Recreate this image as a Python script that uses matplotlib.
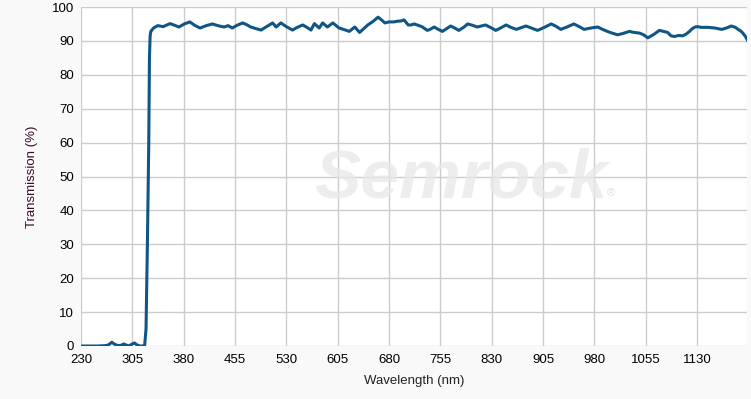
import matplotlib
matplotlib.use("Agg")
import matplotlib.pyplot as plt
import numpy as np

plt.rcParams['font.family'] = ['Liberation Sans', 'DejaVu Sans']

# Data (wavelength nm, transmission %)
wavelength = [230, 240, 255, 265, 270, 275, 280, 285, 290, 292, 296, 300, 304, 308, 312, 316, 320,
              323, 325, 327, 328, 329, 330, 331, 332, 336, 342, 350, 360, 367, 373, 381, 389, 396, 404,
              413, 422, 430, 439, 445, 451, 458, 466, 472, 478, 486, 493, 502, 510, 515, 522,
              530, 539, 546, 554, 560, 566, 571, 578, 583, 590, 598, 607, 615, 622, 630, 637,
              643, 649, 657, 664, 669, 674, 680, 687, 692, 698, 702, 708, 712, 717, 721, 728,
              736, 740, 746, 752, 758, 764, 770, 776, 782, 789, 795, 802, 809, 815, 821, 828,
              836, 843, 851, 858, 866, 873, 880, 888, 897, 907, 917, 924, 931, 940, 950, 957,
              965, 975, 985, 992, 999, 1006, 1014, 1022, 1031, 1038, 1046, 1052, 1058, 1066,
              1075, 1081, 1087, 1092, 1097, 1103, 1109, 1114, 1119, 1123, 1127, 1131, 1136,
              1146, 1156, 1166, 1173, 1180, 1186, 1190, 1194, 1197, 1201, 1204]
transmission = [0.0, 0.0, 0.0, 0.1, 0.3, 1.1, 0.4, 0.1, 0.3, 0.6, 0.3, 0.0, 0.5, 0.9, 0.3, 0.0, 0.0,
                0.2, 5.0, 30.0, 45.0, 60.0, 85.0, 91.5, 92.8, 93.8, 94.5, 94.2, 95.1, 94.6, 94.1, 95.0, 95.6, 94.6, 93.8,
                94.5, 95.0, 94.5, 94.1, 94.5, 93.8, 94.6, 95.3, 94.8, 94.1, 93.6, 93.2, 94.3, 95.3, 94.1, 95.3,
                94.2, 93.2, 94.0, 94.7, 94.0, 93.2, 95.1, 93.8, 95.3, 94.1, 95.3, 93.8, 93.3, 92.8, 94.1, 92.5,
                93.6, 94.7, 95.8, 97.0, 96.2, 95.3, 95.6, 95.6, 95.8, 95.9, 96.2, 94.7, 94.7, 95.0, 94.7, 94.2,
                93.1, 93.4, 94.1, 93.4, 92.8, 93.6, 94.4, 93.8, 93.1, 94.0, 95.0, 94.6, 94.1, 94.4, 94.7, 94.0,
                93.1, 93.8, 94.7, 94.0, 93.4, 93.9, 94.4, 93.8, 93.1, 94.0, 95.0, 94.3, 93.4, 94.1, 95.0, 94.3,
                93.4, 93.8, 94.1, 93.4, 92.8, 92.3, 91.8, 92.2, 92.8, 92.5, 92.3, 91.8, 90.9, 91.8,
                93.1, 92.8, 92.5, 91.5, 91.3, 91.6, 91.5, 92.0, 92.8, 93.6, 94.1, 94.2, 94.0,
                94.0, 93.8, 93.4, 93.8, 94.4, 94.0, 93.4, 92.9, 92.3, 91.2, 90.1]

x_ticks = [230, 305, 380, 455, 530, 605, 680, 755, 830, 905, 980, 1055, 1130]
y_ticks = [0, 10, 20, 30, 40, 50, 60, 70, 80, 90, 100]

fig = plt.figure(figsize=(7.51, 3.99), dpi=100)
fig.patch.set_facecolor('#f9f9f9')
ax = fig.add_axes([81/751, 1 - 346/399, (747 - 81)/751, (346 - 7)/399])
ax.set_facecolor('white')

ax.plot(wavelength, transmission, color='#0f5585', linewidth=2.2, solid_joinstyle='round', zorder=3)

ax.set_xlim(230, 1203)
ax.set_ylim(0, 100)
ax.set_xticks(x_ticks)
ax.set_yticks(y_ticks)
ax.grid(True, color='#cccccc', linewidth=1)
ax.set_axisbelow(True)
for s in ax.spines.values():
    s.set_visible(False)
ax.tick_params(length=0, labelsize=9.5, colors='black', pad=5)
ax.tick_params(axis='x', pad=6)

ax.set_xlabel('Wavelength (nm)', fontsize=9.5, color='#222222', labelpad=6)
ax.set_ylabel('Transmission (%)', fontsize=9.5, color='#3a0a2a', labelpad=10)

# Watermark
ax.text(0.57, 0.49, 'Semrock', transform=ax.transAxes, fontsize=50, fontweight='bold',
        fontstyle='italic', color='#e8e8e8', ha='center', va='center', zorder=1, alpha=0.75)
ax.text(0.79, 0.45, '®', transform=ax.transAxes, fontsize=8,
        color='#e0e0e0', ha='left', va='center', zorder=1)

fig.savefig('out.png', dpi=100, facecolor=fig.get_facecolor())
